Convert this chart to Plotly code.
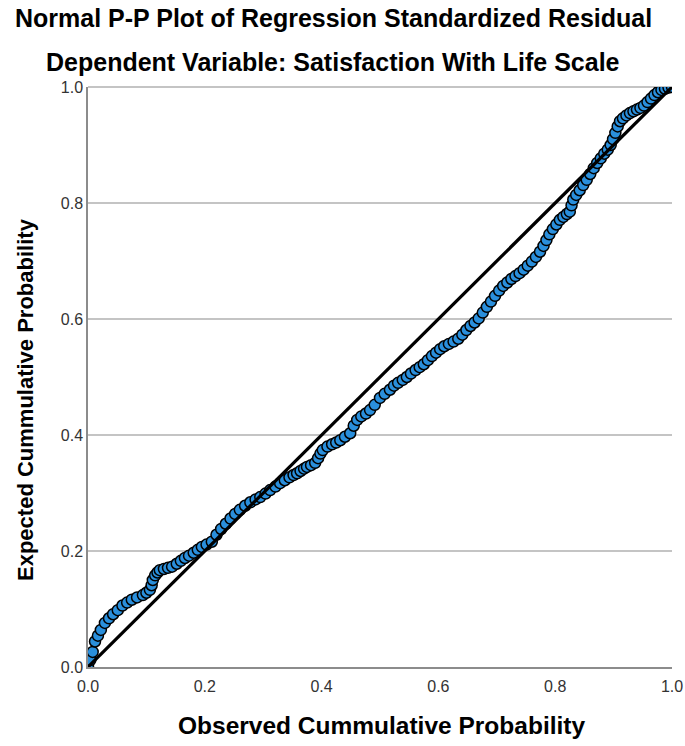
import plotly.graph_objects as go

# Observed cumulative probability (x) and expected cumulative probability (y)
observed = [
    0.000, 0.004, 0.008, 0.012, 0.017, 0.022, 0.029, 0.036, 0.043, 0.051,
    0.059, 0.067, 0.075, 0.084, 0.094, 0.100, 0.106, 0.109, 0.111, 0.115,
    0.119, 0.123, 0.130, 0.137, 0.144, 0.152, 0.159, 0.166, 0.173, 0.181,
    0.188, 0.195, 0.203, 0.212,
    0.220, 0.228, 0.236, 0.244, 0.252, 0.260, 0.269, 0.278, 0.287, 0.295,
    0.304, 0.312, 0.321, 0.329, 0.337, 0.345, 0.352, 0.358, 0.364, 0.370,
    0.375, 0.382, 0.389, 0.394, 0.398, 0.402, 0.410, 0.418, 0.425, 0.432,
    0.440, 0.449,
    0.455, 0.461, 0.468, 0.476, 0.483, 0.491, 0.500, 0.508, 0.517, 0.524,
    0.531, 0.539, 0.546, 0.553, 0.561, 0.568, 0.575, 0.582, 0.589, 0.596,
    0.603, 0.610, 0.618, 0.626, 0.634, 0.641, 0.648, 0.655, 0.662, 0.669,
    0.676, 0.683,
    0.690, 0.697, 0.704, 0.711, 0.718, 0.725, 0.732, 0.739, 0.746, 0.753,
    0.760, 0.767, 0.774, 0.780, 0.785, 0.790, 0.796, 0.802, 0.808, 0.814,
    0.820, 0.825, 0.828, 0.831, 0.836, 0.842, 0.848, 0.854,
    0.860, 0.866, 0.872, 0.878, 0.884, 0.890, 0.895, 0.899, 0.903, 0.907,
    0.911, 0.916, 0.922, 0.928, 0.934, 0.940, 0.946, 0.952, 0.958, 0.964,
    0.970, 0.976, 0.982, 0.988, 0.994, 1.000,
]
expected = [
    0.000, 0.012, 0.026, 0.044, 0.054, 0.064, 0.076, 0.084, 0.091, 0.098,
    0.106, 0.111, 0.116, 0.120, 0.124, 0.128, 0.133, 0.141, 0.150, 0.158,
    0.163, 0.167, 0.169, 0.171, 0.173, 0.178, 0.183, 0.188, 0.192, 0.197,
    0.202, 0.207, 0.211, 0.216,
    0.228, 0.238, 0.247, 0.256, 0.264, 0.271, 0.278, 0.284, 0.289, 0.293,
    0.299, 0.305, 0.311, 0.317, 0.322, 0.327, 0.331, 0.334, 0.338, 0.342,
    0.345, 0.348, 0.352, 0.360, 0.368, 0.374, 0.380, 0.384, 0.387, 0.391,
    0.397, 0.403,
    0.416, 0.426, 0.432, 0.437, 0.443, 0.452, 0.464, 0.471, 0.478, 0.485,
    0.490, 0.495, 0.500, 0.506, 0.512, 0.517, 0.522, 0.529, 0.536, 0.542,
    0.548, 0.553, 0.557, 0.561, 0.566, 0.573, 0.581, 0.588, 0.594, 0.601,
    0.611, 0.621,
    0.630, 0.640, 0.649, 0.657, 0.663, 0.669, 0.674, 0.679, 0.685, 0.692,
    0.699, 0.707, 0.716, 0.726, 0.736, 0.746, 0.755, 0.763, 0.771, 0.776,
    0.781, 0.785, 0.796, 0.806, 0.814, 0.822, 0.831, 0.840,
    0.850, 0.860, 0.869, 0.877, 0.885, 0.892, 0.900, 0.910, 0.921, 0.932,
    0.941, 0.946, 0.951, 0.955, 0.958, 0.961, 0.964, 0.968, 0.974, 0.980,
    0.986, 0.991, 0.995, 0.997, 0.999, 1.000,
]
ref_line = [0.0, 1.0]
tick_vals = [0.0, 0.2, 0.4, 0.6, 0.8, 1.0]
tick_text = ["0.0", "0.2", "0.4", "0.6", "0.8", "1.0"]

FONT = "Liberation Sans, Arial, sans-serif"

fig = go.Figure()
fig.add_trace(go.Scatter(
    x=observed, y=expected, mode="markers",
    marker=dict(size=11, color="#2a8fdc", line=dict(color="#000000", width=1.5)),
    showlegend=False, hoverinfo="skip",
))
fig.add_trace(go.Scatter(
    x=ref_line, y=ref_line, mode="lines",
    line=dict(color="#000000", width=3.2),
    showlegend=False, hoverinfo="skip",
))

fig.update_layout(
    width=685, height=746,
    margin=dict(l=88, r=13, t=87, b=79, autoexpand=False),
    paper_bgcolor="white", plot_bgcolor="white",
    font=dict(family=FONT, color="#000000"),
    xaxis=dict(
        range=[0, 1], tickvals=tick_vals, ticktext=tick_text,
        showgrid=False, zeroline=False, automargin=False,
        showline=True, linecolor="#8c8c8c", linewidth=1.5,
        ticks="", ticklabelstandoff=4, tickfont=dict(size=16, color="#333333"),
    ),
    yaxis=dict(
        range=[0, 1], tickvals=tick_vals, ticktext=tick_text,
        showgrid=True, gridcolor="#c4c4c4", gridwidth=1.5, zeroline=False,
        automargin=False,
        showline=True, linecolor="#8c8c8c", linewidth=1.5,
        ticks="", tickfont=dict(size=16, color="#333333"),
    ),
    shapes=[dict(type="line", xref="paper", yref="paper", x0=0, x1=1, y0=1, y1=1,
                 line=dict(color="#b0b0b0", width=1.5), layer="below")],
    annotations=[
        dict(text="<b>Normal P-P Plot of Regression Standardized Residual</b>",
             xref="paper", yref="paper", x=(333 - 88) / 584, y=1 + (87 - 18) / 580,
             xanchor="center", yanchor="middle", showarrow=False,
             font=dict(size=25, family=FONT, color="#000000")),
        dict(text="<b>Dependent Variable: Satisfaction With Life Scale</b>",
             xref="paper", yref="paper", x=(333 - 88) / 584, y=1 + (87 - 62) / 580,
             xanchor="center", yanchor="middle", showarrow=False,
             font=dict(size=25, family=FONT, color="#000000")),
        dict(text="<b>Observed Cummulative Probability</b>",
             xref="paper", yref="paper", x=(381 - 88) / 584, y=-(725 - 667) / 580,
             xanchor="center", yanchor="middle", showarrow=False,
             font=dict(size=24.5, family=FONT, color="#000000")),
        dict(text="<b>Expected Cummulative Probability</b>",
             xref="paper", yref="paper", x=-(88 - 25) / 584, y=(667 - 400) / 580,
             xanchor="center", yanchor="middle", showarrow=False, textangle=-90,
             font=dict(size=22, family=FONT, color="#000000")),
    ],
)

fig.write_html("out.html")
